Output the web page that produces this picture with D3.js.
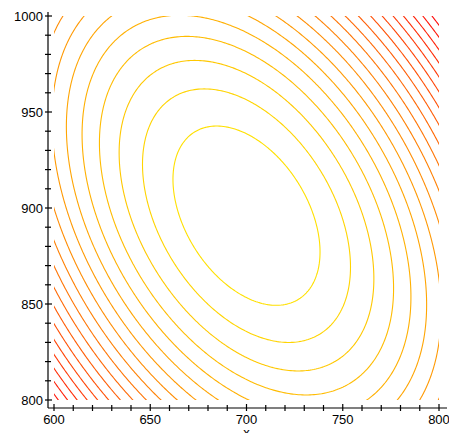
<!DOCTYPE html>
<html>
<head>
<meta charset="utf-8">
<script src="https://cdn.jsdelivr.net/npm/d3@7"></script>
<style>
  html, body { margin: 0; padding: 0; background: #fff; }
  svg { display: block; }
  text { font-family: "Liberation Sans", Arial, sans-serif; }
</style>
</head>
<body>
<svg id="chart" width="449" height="433"></svg>
<script>
// ---- data ----
const xTicks = [600, 650, 700, 750, 800];
const yTicks = [800, 850, 900, 950, 1000];
const xDomain = [600, 800];
const yDomain = [800, 1000];
// quadratic surface z = a(x-x0)^2 + 2b(x-x0)(y-y0) + c(y-y0)^2
const surfaceCenter = [700, 896];
const surfaceCoefficients = [8.20e-4, 2.72e-4, 5.49e-4];
const contourLevels = [1, 2, 3, 4, 5, 6, 7, 8, 9, 10, 11, 12, 13, 14, 15, 16, 17, 18, 19];
const xLabel = "x";

// ---- layout ----
const svg = d3.select("#chart");
const plot = { left: 54, right: 439, top: 16, bottom: 400 };
const x = d3.scaleLinear().domain(xDomain).range([plot.left, plot.right]);
const y = d3.scaleLinear().domain(yDomain).range([plot.bottom, plot.top]);

// surface sampled on a grid slightly larger than the view
const step = 1;
const gx0 = xDomain[0] - 40, gx1 = xDomain[1] + 40;
const gy0 = yDomain[1] + 40, gy1 = yDomain[0] - 40;
const nx = Math.round((gx1 - gx0) / step) + 1;
const ny = Math.round((gy0 - gy1) / step) + 1;
const [a, b, c] = surfaceCoefficients;
const values = new Array(nx * ny);
for (let j = 0; j < ny; j++) {
  const yy = gy0 - j * step - surfaceCenter[1];
  for (let i = 0; i < nx; i++) {
    const xx = gx0 + i * step - surfaceCenter[0];
    values[j * nx + i] = a * xx * xx + 2 * b * xx * yy + c * yy * yy;
  }
}
const contours = d3.contours().size([nx, ny]).thresholds(contourLevels)(values);

const toPx = d3.geoTransform({
  point: function(gx, gy) {
    this.stream.point(x(gx0 + (gx - 0.5) * step), y(gy0 - (gy - 0.5) * step));
  }
});
const path = d3.geoPath(toPx);

const color = d3.scaleLinear()
  .domain([contourLevels[0], contourLevels[contourLevels.length - 1]])
  .range(["#ffe000", "#ff0a0a"])
  .interpolate(d3.interpolateRgb);

svg.append("clipPath").attr("id", "clip")
  .append("rect")
  .attr("x", plot.left).attr("y", plot.top)
  .attr("width", plot.right - plot.left).attr("height", plot.bottom - plot.top);

svg.append("g").attr("clip-path", "url(#clip)")
  .selectAll("path").data(contours).join("path")
  .attr("d", path)
  .attr("fill", "none")
  .attr("stroke", d => color(d.value))
  .attr("stroke-width", 1.1);

// ---- axes (Maple style: offset, ticks crossing the line) ----
const axisX = 48, axisY = 408;
const ax = svg.append("g").attr("stroke", "#000").attr("stroke-width", 1.2);
ax.append("line").attr("x1", axisX).attr("x2", axisX).attr("y1", 12).attr("y2", axisY);
ax.append("line").attr("x1", axisX).attr("x2", 447).attr("y1", axisY).attr("y2", axisY);

const xMinor = d3.range(xDomain[0], xDomain[1] + 1, 10);
const yMinor = d3.range(yDomain[0], yDomain[1] + 1, 10);
ax.selectAll(".xt").data(xMinor).join("line")
  .attr("x1", d => x(d)).attr("x2", d => x(d))
  .attr("y1", d => axisY - (d % 50 === 0 ? 4 : 3)).attr("y2", d => axisY + 3);
ax.selectAll(".yt").data(yMinor).join("line")
  .attr("y1", d => y(d)).attr("y2", d => y(d))
  .attr("x1", d => axisX - 3).attr("x2", d => axisX + (d % 50 === 0 ? 4 : 3));

svg.selectAll(".xl").data(xTicks).join("text")
  .attr("x", d => x(d)).attr("y", 424)
  .attr("text-anchor", "middle").attr("font-size", 13).attr("fill", "#000")
  .text(d => d);
svg.selectAll(".yl").data(yTicks).join("text")
  .attr("x", 43).attr("y", d => y(d) + 4.5)
  .attr("text-anchor", "end").attr("font-size", 13).attr("fill", "#000")
  .text(d => d);
svg.append("text").attr("x", x(700)).attr("y", 437)
  .attr("text-anchor", "middle").attr("font-size", 13).attr("fill", "#000")
  .text(xLabel);
</script>
</body>
</html>
